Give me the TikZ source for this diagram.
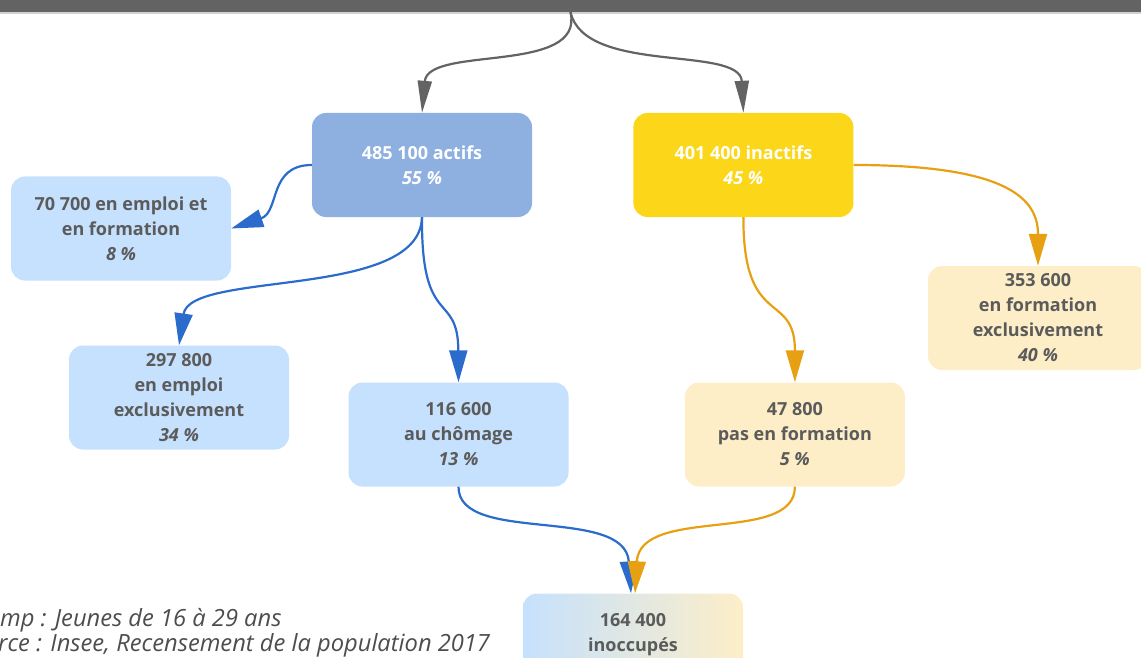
\documentclass[tikz,border=0pt]{standalone}
\usepackage{fontspec}
\setmainfont{Open Sans}
\usepackage{tikz}
\usetikzlibrary{positioning}
\usetikzlibrary{shapes,arrows.meta}

\definecolor{barGray}{HTML}{636363}
\definecolor{textGray}{HTML}{5B5B5B}
\definecolor{actBlue}{HTML}{8EB0E0}
\definecolor{inactYellow}{HTML}{FCD619}
\definecolor{paleBlue}{HTML}{C6E1FD}
\definecolor{paleYellow}{HTML}{FDEEC8}
\definecolor{flowBlue}{HTML}{2A6BCB}
\definecolor{flowOrange}{HTML}{E8A013}

\tikzset{
  box/.style={rounded corners=14pt, minimum width=220pt, minimum height=104pt,
    align=center, text=textGray, font=\fontsize{18}{25}\selectfont\bfseries},
  actbox/.style={box, fill=actBlue, text=white},
  inactbox/.style={box, fill=inactYellow, text=white},
  bluebox/.style={box, fill=paleBlue},
  yellowbox/.style={box, fill=paleYellow},
  flow/.style={line width=2.2pt, -{Triangle[length=32pt,width=18pt]}},
  grayflow/.style={flow, barGray, -{Triangle[length=32pt,width=14pt]}},
  note/.style={anchor=base west, inner sep=0pt, text=textGray!85!black,
    font=\itshape\fontsize{23.7}{25}\selectfont},
}

\begin{document}
\begin{tikzpicture}[x=1pt, y=-1pt]
        \useasboundingbox (0,0) rectangle (1141,658);

        % Define the nodes
        \node[fill=barGray, minimum width=1141pt, minimum height=12pt, inner sep=0pt] (titlebar) at (570.5,6) {};
        \draw[black!18, line width=2pt] (0,13) -- (1141,13);

        \node[actbox] (actifs) at (422,165) {485 100 actifs\\\textit{55 \%}};
        \node[inactbox, right=101pt of actifs] (inactifs) {401 400 inactifs\\\textit{45 \%}};

        \node[bluebox] (emform) at (121,228.5) {70 700 en emploi et\\en formation\\\textit{8 \%}};
        \node[bluebox] (emexcl) at (179,397.5) {297 800\\en emploi\\exclusivement\\\textit{34 \%}};
        \node[bluebox] (chomage) at (458.5,434.5) {116 600\\au chômage\\\textit{13 \%}};
        \node[yellowbox, right=116pt of chomage] (pasform) {47 800\\pas en formation\\\textit{5 \%}};
        \node[yellowbox] (formexcl) at (1038,318) {353 600\\en formation\\exclusivement\\\textit{40 \%}};
        \node[box, left color=paleBlue, right color=paleYellow] (inocc) at (633,645.5) {164 400\\inoccupés\\\phantom{18 \%}};

        \node[note] (champ) at (-41,626) {Champ : Jeunes de 16 à 29 ans};
        \node[note] (source) at (-41,651) {Source : Insee, Recensement de la population 2017};

        % Draw the links
        \draw[grayflow] (titlebar.south) .. controls (585,75) and (428,45) .. (actifs.north);
        \draw[grayflow] (titlebar.south) .. controls (585,75) and (740,45) .. (inactifs.north);

        \draw[flow, flowBlue] (actifs.west) .. controls (268,165) and (280,212) .. (emform.east);
        \draw[flow, flowBlue] (actifs.south) .. controls (420,300) and (190,270) .. (emexcl.north);
        \draw[flow, flowBlue] (actifs.south) .. controls (421,330) and (458,290) .. (chomage.north);

        \draw[flow, flowOrange] (inactifs.east) .. controls (1010,165) and (1038,200) .. (formexcl.north);
        \draw[flow, flowOrange] (inactifs.south) .. controls (743,330) and (795,290) .. (pasform.north);

        \draw[flow, flowBlue] (chomage.south) .. controls (458,545) and (625,505) .. ([xshift=-2pt]inocc.north);
        \draw[flow, flowOrange] (pasform.south) .. controls (795,545) and (640,505) .. ([xshift=2pt]inocc.north);
    \end{tikzpicture}
\end{document}
